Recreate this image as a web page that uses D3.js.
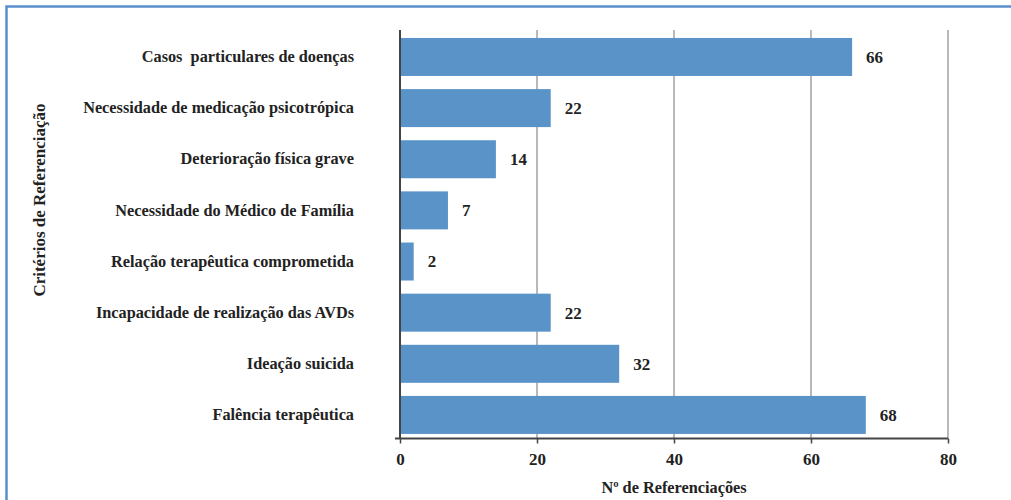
<!DOCTYPE html>
<html>
<head>
<meta charset="utf-8">
<script src="https://cdn.jsdelivr.net/npm/d3@7"></script>
<style>
  html, body { margin: 0; padding: 0; background: #fff; overflow: hidden; }
  svg { display: block; }
  text { font-family: "Liberation Serif", "DejaVu Serif", serif; font-weight: bold; fill: #222; }
</style>
</head>
<body>
<div id="chart"></div>
<script>
// Categories (top to bottom) and values
const categories = [
  "Casos\u00a0 particulares de doenças",
  "Necessidade de medicação psicotrópica",
  "Deterioração física grave",
  "Necessidade do Médico de Família",
  "Relação terapêutica comprometida",
  "Incapacidade de realização das AVDs",
  "Ideação suicida",
  "Falência terapêutica"
];
const values = [66, 22, 14, 7, 2, 22, 32, 68];
const xTicks = [0, 20, 40, 60, 80];

const width = 1011;
const height = 500;
const margin = { top: 30, right: 63, bottom: 61.5, left: 400 };
const innerWidth = width - margin.left - margin.right;
const innerHeight = height - margin.top - margin.bottom;

const svg = d3.select("#chart")
  .append("svg")
  .attr("width", width)
  .attr("height", height);

// Outer frame (only top and left edges fall inside the picture)
svg.append("path")
  .attr("d", `M6.5,${height}V6.5H${width}`)
  .attr("fill", "none")
  .attr("stroke", "#5b8fcb")
  .attr("stroke-width", 2.5);

const innerChart = svg.append("g")
  .attr("transform", `translate(${margin.left}, ${margin.top})`);

const xScale = d3.scaleLinear()
  .domain([0, 80])
  .range([0, innerWidth]);

const yScale = d3.scaleBand()
  .domain(categories)
  .range([1.7, innerHeight + 1.7])
  .paddingInner(0.257)
  .paddingOuter(0.1225);

// Vertical gridlines
innerChart.selectAll(".grid")
  .data(xTicks.slice(1))
  .join("line")
  .attr("class", "grid")
  .attr("x1", d => xScale(d))
  .attr("x2", d => xScale(d))
  .attr("y1", 0)
  .attr("y2", innerHeight)
  .attr("stroke", "#8a8a8a")
  .attr("stroke-width", 1.2);

// Bars
innerChart.selectAll(".bar")
  .data(categories)
  .join("rect")
  .attr("class", "bar")
  .attr("x", 0)
  .attr("y", d => yScale(d))
  .attr("width", (d, i) => xScale(values[i]))
  .attr("height", yScale.bandwidth())
  .attr("fill", "#5a93c8");

// Value labels
innerChart.selectAll(".value")
  .data(categories)
  .join("text")
  .attr("class", "value")
  .attr("x", (d, i) => xScale(values[i]) + 14)
  .attr("y", d => yScale(d) + yScale.bandwidth() / 2)
  .attr("dy", "0.35em")
  .style("font-size", "17px")
  .text((d, i) => values[i]);

// X axis
const bottomAxis = d3.axisBottom(xScale)
  .tickValues(xTicks)
  .tickSize(5)
  .tickSizeOuter(0);
const xAxis = innerChart.append("g")
  .attr("transform", `translate(0, ${innerHeight})`)
  .call(bottomAxis);
xAxis.select(".domain")
  .attr("d", `M-5,0H${innerWidth}`)
  .attr("stroke", "#444")
  .attr("stroke-width", 2);
xAxis.selectAll(".tick line").attr("stroke", "#444").attr("stroke-width", 1.5);
xAxis.selectAll("text")
  .attr("dy", "1.1em")
  .style("font-size", "17px")
  .style("font-family", "Liberation Serif, serif")
  .style("font-weight", "bold")
  .attr("fill", "#222");

// Y axis line + labels
const leftAxis = d3.axisLeft(yScale).tickSize(0).tickPadding(46);
const yAxis = innerChart.append("g").call(leftAxis);
yAxis.select(".domain")
  .attr("d", `M0,0V${innerHeight}`)
  .attr("stroke", "#444")
  .attr("stroke-width", 2);
yAxis.selectAll("text")
  .style("font-size", "16.3px")
  .style("font-family", "Liberation Serif, serif")
  .style("font-weight", "bold")
  .attr("fill", "#222");

// Axis titles
svg.append("text")
  .text("Nº de Referenciações")
  .attr("x", margin.left + innerWidth / 2)
  .attr("y", 493)
  .attr("text-anchor", "middle")
  .style("font-size", "16.3px");

svg.append("text")
  .text("Critérios de Referenciação")
  .attr("transform", `translate(45, 200) rotate(-90)`)
  .attr("text-anchor", "middle")
  .style("font-size", "17px");
</script>
</body>
</html>
